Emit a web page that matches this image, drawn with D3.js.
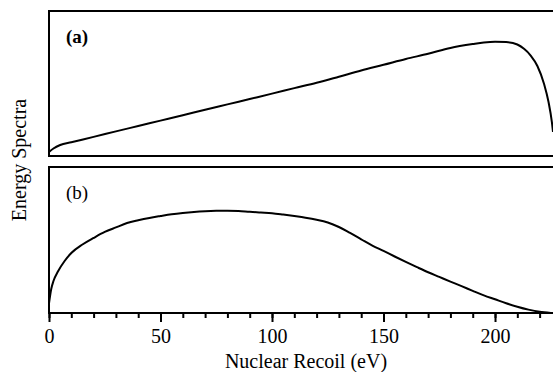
<!DOCTYPE html>
<html>
<head>
<meta charset="utf-8">
<script src="https://cdn.jsdelivr.net/npm/d3@7"></script>
<style>
  body { margin: 0; background: #fff; }
  svg { display: block; font-family: "Liberation Serif", "DejaVu Serif", serif; }
</style>
</head>
<body>
<div id="chart-area"></div>
<script>
// recoil energies (eV) and spectra, arbitrary units (0 = panel floor, 100 = panel top)
const recoilA = [0, 2, 5, 10, 20, 30, 40, 50, 60, 70, 80, 90, 100, 110, 120, 130, 140, 150,
  160, 170, 180, 190, 195, 200, 205, 210, 213, 216, 219, 222, 224, 225.5, 226]
const spectrumA = [2.8, 5.2, 7.6, 9.5, 13.2, 17.0, 20.7, 24.4, 28.1, 31.9, 35.6, 39.3, 43.0, 46.8,
  50.5, 54.7, 59.0, 62.9, 66.9, 70.5, 74.5, 77.2, 78.3, 78.8, 78.6, 76.9, 73.9, 69.3, 62.1,
  49.7, 37.2, 23.4, 16.6]

const recoilB = [0, 1, 2, 4, 7, 10, 15, 20, 25, 30, 35, 40, 45, 50, 55, 60, 65, 70, 75, 80, 85,
  90, 95, 100, 105, 110, 115, 120, 125, 130, 135, 140, 145, 150, 155, 160, 165, 170, 175, 180,
  185, 190, 195, 200, 205, 210, 215, 220, 225]
const spectrumB = [6.6, 16.4, 21.9, 28.4, 35.6, 41.1, 46.9, 51.4, 55.5, 58.6, 61.6, 63.5, 65.1,
  66.4, 67.6, 68.5, 69.2, 69.7, 70.0, 70.1, 69.9, 69.3, 68.8, 68.3, 67.4, 66.4, 65.3, 63.9, 62.0,
  58.9, 54.8, 50.5, 46.2, 42.5, 38.7, 35.0, 31.4, 27.9, 24.7, 21.5, 18.4, 15.2, 12.1, 9.4, 6.7,
  4.3, 2.3, 0.8, 0]

const majorTicks = [0, 50, 100, 150, 200]
const minorTicks = d3.range(0, 230, 10)

const WIDTH = 553, HEIGHT = 372
const LEFT = 49, RIGHT = 553

const svg = d3.select('#chart-area')
  .append('svg')
  .attr('width', WIDTH)
  .attr('height', HEIGHT)

const x = d3.scaleLinear().domain([0, 226]).range([LEFT, RIGHT])

const panels = [
  { id: 'a', top: 11, bottom: 156, xs: recoilA, ys: spectrumA, label: '(a)', weight: 'bold' },
  { id: 'b', top: 167, bottom: 313, xs: recoilB, ys: spectrumB, label: '(b)', weight: 'normal' }
]

panels.forEach(p => {
  const y = d3.scaleLinear().domain([0, 100]).range([p.bottom, p.top])

  svg.append('clipPath').attr('id', 'clip-' + p.id)
    .append('rect')
    .attr('x', LEFT).attr('y', p.top)
    .attr('width', RIGHT - LEFT).attr('height', p.bottom - p.top)

  const line = d3.line()
    .x(d => x(d[0]))
    .y(d => y(d[1]))
    .curve(d3.curveMonotoneX)

  svg.append('path')
    .datum(d3.zip(p.xs, p.ys))
    .attr('clip-path', `url(#clip-${p.id})`)
    .attr('fill', 'none')
    .attr('stroke', '#000')
    .attr('stroke-width', 2)
    .attr('d', line)

  // frame runs off the right edge of the picture
  svg.append('rect')
    .attr('x', LEFT).attr('y', p.top)
    .attr('width', RIGHT - LEFT + 40).attr('height', p.bottom - p.top)
    .attr('fill', 'none')
    .attr('stroke', '#000')
    .attr('stroke-width', 2)

  svg.append('text')
    .attr('x', 66).attr('y', p.top + 32)
    .attr('font-size', 19)
    .attr('font-weight', p.weight)
    .text(p.label)
})

// x axis under panel b
const axisY = panels[1].bottom
svg.append('g')
  .attr('transform', `translate(0,${axisY})`)
  .call(d3.axisBottom(x).tickValues(minorTicks).tickSize(5).tickFormat(''))
  .call(g => g.select('.domain').remove())
  .call(g => g.selectAll('line').attr('stroke', '#000').attr('stroke-width', 2))

svg.append('g')
  .attr('transform', `translate(0,${axisY})`)
  .call(d3.axisBottom(x).tickValues(majorTicks).tickSize(9).tickPadding(7))
  .call(g => g.select('.domain').remove())
  .call(g => g.selectAll('line').attr('stroke', '#000').attr('stroke-width', 2))
  .call(g => g.selectAll('text')
    .attr('fill', '#000')
    .style('font-family', '"Liberation Serif", serif')
    .style('font-size', '20px'))

svg.append('text')
  .attr('x', 306).attr('y', 368)
  .attr('text-anchor', 'middle')
  .attr('font-size', 20)
  .text('Nuclear Recoil (eV)')

svg.append('text')
  .attr('transform', 'translate(26,160) rotate(-90)')
  .attr('text-anchor', 'middle')
  .attr('font-size', 20)
  .text('Energy Spectra')
</script>
</body>
</html>
